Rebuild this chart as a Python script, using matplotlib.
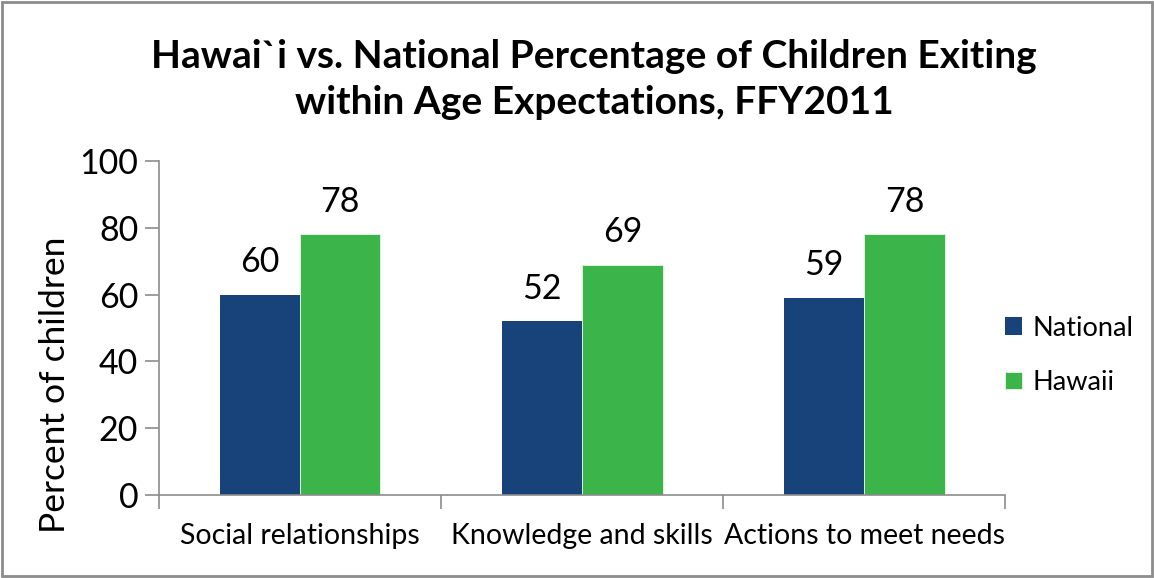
import numpy as np
import matplotlib
matplotlib.use("Agg")
import matplotlib.pyplot as plt
from matplotlib.patches import Rectangle

plt.rcParams['font.family'] = ['Lato', 'DejaVu Sans']

categories = ['Social relationships', 'Knowledge and skills', 'Actions to meet needs']
national = [60, 52, 59]
hawaii = [78, 69, 78]
series_names = ['National', 'Hawaii']
colors = ['#17437a', '#3bb54a']

fig = plt.figure(figsize=(11.54, 5.78), dpi=100)
ax = fig.add_axes([0.1378, 0.1436, 0.7333, 0.5779])

x = np.arange(len(categories))
w = 0.285
b1 = ax.bar(x - w / 2, national, w, color=colors[0], label=series_names[0])
b2 = ax.bar(x + w / 2, hawaii, w, color=colors[1], label=series_names[1],
            edgecolor='#e8f5e9', linewidth=0.6)

for bars, vals in [(b1, national), (b2, hawaii)]:
    for rect, v in zip(bars, vals):
        ax.text(rect.get_x() + rect.get_width() / 2, v + 5, str(v),
                ha='center', va='bottom', fontsize=24.5)

ax.set_xlim(-0.5, len(categories) - 0.5)
ax.set_ylim(0, 100)
ax.set_yticks(range(0, 101, 20))
ax.tick_params(axis='y', labelsize=24.5, length=10, width=1.2, color='#8c8c8c', pad=5)

# category ticks sit between groups, labels centred under each group
ax.set_xticks(np.arange(len(categories) + 1) - 0.5)
ax.set_xticklabels([])
ax.set_xticks(x, minor=True)
ax.set_xticklabels(categories, minor=True, fontsize=20.5)
ax.tick_params(axis='x', which='major', length=10, width=1.2, color='#8c8c8c', direction='out')
ax.tick_params(axis='x', which='minor', length=0, pad=20)

for s in ['top', 'right']:
    ax.spines[s].set_visible(False)
for s in ['left', 'bottom']:
    ax.spines[s].set_color('#8c8c8c')
    ax.spines[s].set_linewidth(1.2)

ax.set_ylabel('Percent of children', fontsize=25.5, va='center')
ax.yaxis.set_label_coords(-0.123, 0.33)

fig.text(0.515, 0.862, 'Hawai`i vs. National Percentage of Children Exiting\nwithin Age Expectations, FFY2011',
         ha='center', va='center', fontsize=28, fontweight='bold', linespacing=1.38)

fig.legend(handles=[b1, b2], labels=series_names, loc='center left',
           bbox_to_anchor=(0.85, 0.385), frameon=False, fontsize=19.5,
           handlelength=0.6, handleheight=0.6, handletextpad=0.4, labelspacing=1.1)

fig.patches.append(Rectangle((0.002, 0.003), 0.996, 0.994, transform=fig.transFigure,
                             fill=False, edgecolor='#8c8c8c', linewidth=2))

fig.savefig('out.png', dpi=100)
